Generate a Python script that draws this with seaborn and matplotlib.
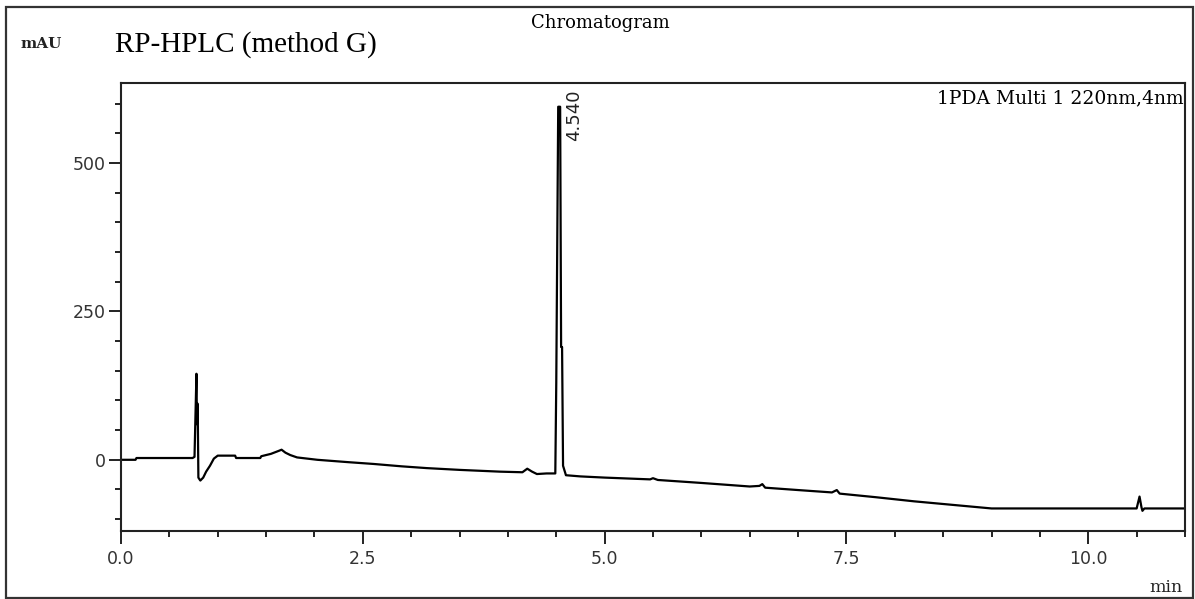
import matplotlib
matplotlib.use("Agg")
import matplotlib.pyplot as plt
from matplotlib.patches import Rectangle
from matplotlib.ticker import MultipleLocator, FixedLocator
import pandas as pd
import seaborn as sns

# Retention time (min) and detector response (mAU) of the PDA trace at 220 nm
time_min = [0.00, 0.15, 0.16, 0.74, 0.76, 0.775, 0.78, 0.785, 0.79, 0.795, 0.80,
            0.82, 0.85, 0.88, 0.92, 0.96, 1.00, 1.18, 1.19, 1.44, 1.45, 1.55,
            1.63, 1.66, 1.70, 1.75, 1.82, 2.03, 2.35, 2.61, 2.90, 3.16, 3.50,
            3.92, 4.15, 4.20, 4.25, 4.30, 4.40, 4.49, 4.50, 4.52, 4.54, 4.55,
            4.56, 4.57, 4.60, 4.75, 5.00, 5.47, 5.50, 5.55, 6.00, 6.50, 6.60,
            6.63, 6.66, 7.00, 7.35, 7.40, 7.43, 7.80, 8.20, 8.60, 9.00, 10.50,
            10.53, 10.55, 10.56, 10.58, 11.00]
signal_mau = [0, 0, 3, 3, 5, 110, 145, 60, 95, 55, -30,
              -35, -30, -20, -10, 2, 7, 7, 3, 3, 6, 10,
              15, 17, 12, 8, 4, 0, -4, -7, -11, -14, -17,
              -20, -21, -15, -20, -24, -23, -23, 130, 595, 595, 190,
              190, -10, -26, -28, -30, -33, -31, -34, -39, -45, -44,
              -41, -47, -51, -55, -51, -57, -63, -70, -76, -82, -82,
              -62, -80, -86, -82, -82]

peak_rt = 4.540
peak_height = 595

x_ticks = [0.0, 2.5, 5.0, 7.5, 10.0]
x_tick_labels = ["0.0", "2.5", "5.0", "7.5", "10.0"]
y_ticks = [0, 250, 500]
y_tick_labels = ["0", "250", "500"]

df = pd.DataFrame({"time": time_min, "mAU": signal_mau})

sns.set_theme(style="ticks")
W, H = 1195, 599
fig = plt.figure(figsize=(W / 100, H / 100), dpi=100)
ax = fig.add_axes([121 / W, 1 - 531 / H, (1185 - 121) / W, (531 - 83) / H])

sns.lineplot(data=df, x="time", y="mAU", ax=ax, color="black", linewidth=1.6,
             estimator=None, sort=False)

ax.set_xlim(0, 11.0)
ax.set_ylim(-120, 635)
ax.set_xlabel("")
ax.set_ylabel("")

ax.xaxis.set_major_locator(FixedLocator(x_ticks))
ax.set_xticklabels(x_tick_labels)
ax.xaxis.set_minor_locator(MultipleLocator(0.5))
ax.yaxis.set_major_locator(FixedLocator(y_ticks))
ax.set_yticklabels(y_tick_labels)
ax.yaxis.set_minor_locator(MultipleLocator(50))

for lab in ax.get_xticklabels() + ax.get_yticklabels():
    lab.set_fontfamily("DejaVu Sans")
    lab.set_fontsize(12.5)
    lab.set_color("#333333")

ax.tick_params(axis="both", which="major", length=9, width=1.4, color="#222222", direction="out")
ax.tick_params(axis="both", which="minor", length=4, width=1.4, color="#222222", direction="out")
ax.tick_params(axis="x", which="major", pad=5)
ax.tick_params(axis="y", which="major", pad=2)

for sp in ax.spines.values():
    sp.set_visible(True)
    sp.set_linewidth(1.5)
    sp.set_color("#222222")

# Peak retention time label
ax.annotate(f"{peak_rt:.3f}", xy=(peak_rt, peak_height), xytext=(10, -6),
            textcoords="offset points", rotation=90, ha="center", va="center",
            fontsize=13, family="DejaVu Sans", color="#222222")

# Detector channel label
ax.text(0.999, 0.985, "1PDA Multi 1 220nm,4nm", transform=ax.transAxes,
        ha="right", va="top", fontsize=13.5, family="DejaVu Serif", color="black")

# Figure annotations
fig.text(41 / W, 1 - 44 / H, "mAU", ha="center", va="center",
         fontsize=11, family="DejaVu Serif", fontweight="bold", color="#222222")
fig.text(115 / W, 1 - 45 / H, "RP-HPLC (method G)", ha="left", va="center",
         fontsize=21, family="Liberation Serif", color="black")
fig.text(600 / W, 1 - 23 / H, "Chromatogram", ha="center", va="center",
         fontsize=13, family="DejaVu Serif", color="black")
fig.text(1183 / W, 1 - 587 / H, "min", ha="right", va="center",
         fontsize=12.5, family="DejaVu Serif", color="#222222")

# Outer frame around the whole figure
fig.patches.append(Rectangle((6 / W, 1 - 598 / H), (1193 - 6) / W, (598 - 7) / H,
                             transform=fig.transFigure, fill=False,
                             edgecolor="#333333", linewidth=1.6))

fig.savefig("out.png", dpi=100)
